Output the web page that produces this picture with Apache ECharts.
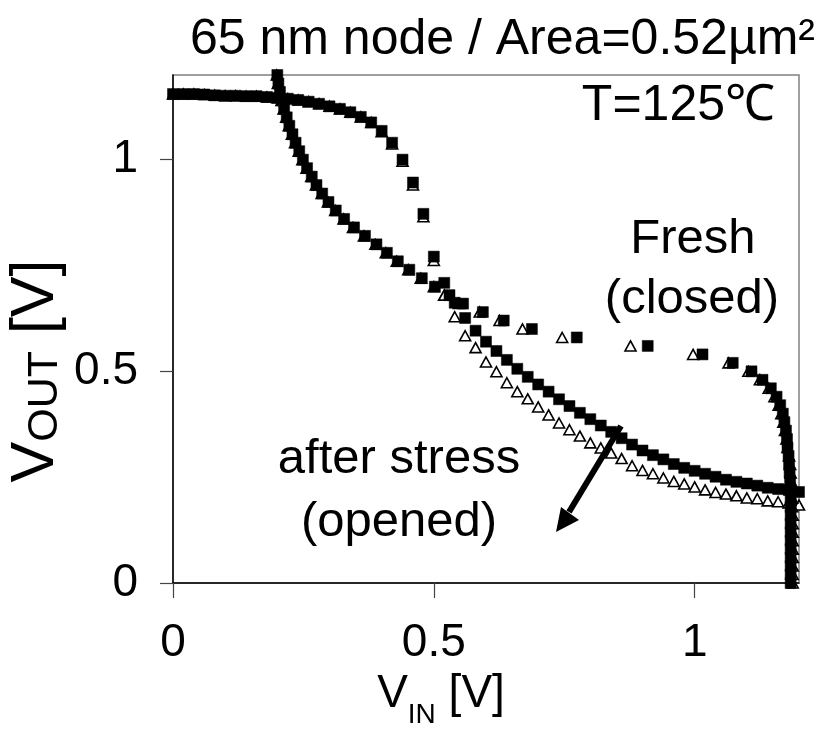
<!DOCTYPE html>
<html><head><meta charset="utf-8">
<script src="https://cdn.jsdelivr.net/npm/echarts@6/dist/echarts.min.js"></script>
<style>html,body{margin:0;padding:0;background:#fff}#c{width:816px;height:734px}</style>
</head><body><div id="c"></div>
<script>
// Sweep voltages (V), 0.02 V steps as measured
const sweep = [0,0.02,0.04,0.06,0.08,0.10,0.12,0.14,0.16,0.18,0.20,0.22,0.24,0.26,0.28,0.30,0.32,0.34,0.36,0.38,0.40,0.42,0.44,0.46,0.48,0.50,0.52,0.54,0.56,0.58,0.60,0.62,0.64,0.66,0.68,0.70,0.72,0.74,0.76,0.78,0.80,0.82,0.84,0.86,0.88,0.90,0.92,0.94,0.96,0.98,1.00,1.02,1.04,1.06,1.08,1.10,1.12,1.14,1.16,1.18,1.20];

// Fresh: VOUT of inverter 1 vs VIN (sweep)
const freshVtcOut = [1.155,1.155,1.155,1.154,1.152,1.151,1.151,1.150,1.150,1.148,1.146,1.144,1.141,1.137,1.132,1.126,1.120,1.112,1.101,1.088,1.068,1.040,1.000,0.946,0.872,0.771,0.709,0.662,0.626,0.596,0.570,0.548,0.527,0.506,0.487,0.469,0.452,0.434,0.418,0.402,0.387,0.372,0.357,0.342,0.327,0.313,0.302,0.292,0.281,0.272,0.265,0.258,0.251,0.244,0.239,0.235,0.230,0.225,0.222,0.220,0.215];
// Fresh: mirrored inverter 2, VIN position vs VOUT (sweep)
const freshMirrorIn = [1.184,1.184,1.184,1.184,1.184,1.184,1.184,1.184,1.184,1.184,1.184,1.183,1.183,1.182,1.181,1.180,1.178,1.177,1.175,1.172,1.169,1.164,1.157,1.146,1.130,1.109,1.073,1.015,0.910,0.774,0.688,0.634,0.594,0.556,0.530,0.502,0.477,0.453,0.431,0.410,0.390,0.368,0.347,0.328,0.312,0.298,0.286,0.275,0.266,0.257,0.249,0.242,0.235,0.229,0.223,0.218,0.213,0.209,0.205,0.202,0.200];

// After stress
const stressVtcOut = [1.155,1.155,1.155,1.154,1.152,1.151,1.151,1.150,1.150,1.148,1.146,1.144,1.141,1.137,1.132,1.126,1.120,1.112,1.101,1.088,1.066,1.037,0.996,0.940,0.865,0.762,0.680,0.629,0.584,0.556,0.522,0.499,0.473,0.452,0.435,0.416,0.397,0.378,0.362,0.347,0.331,0.319,0.307,0.294,0.277,0.266,0.258,0.248,0.240,0.234,0.227,0.220,0.214,0.210,0.206,0.201,0.199,0.194,0.192,0.189,0.184];
const stressMirrorIn = [1.188,1.188,1.188,1.188,1.188,1.188,1.188,1.188,1.188,1.187,1.187,1.186,1.185,1.184,1.183,1.181,1.178,1.176,1.173,1.170,1.166,1.161,1.153,1.142,1.125,1.103,1.065,0.997,0.877,0.746,0.670,0.626,0.588,0.548,0.520,0.500,0.475,0.451,0.429,0.408,0.388,0.366,0.345,0.327,0.311,0.297,0.285,0.274,0.265,0.256,0.248,0.241,0.234,0.228,0.222,0.217,0.212,0.208,0.204,0.201,0.199];

const tickVals = [0, 0.5, 1];
const FONT = 'Liberation Sans, Arial, sans-serif';

const pairs = (xs, ys) => xs.map((x, i) => [x, ys[i]]);

const chart = echarts.init(document.getElementById('c'));
const squareStyle = {color: '#000', borderColor: '#000', borderWidth: 0.5, opacity: 1};
const triStyle = {color: '#fff', borderColor: '#000', borderWidth: 1.6, opacity: 1};
const txt = (text, x, y, size, align) => ({type: 'text', z: 20, style: {text, x, y, font: size + 'px ' + FONT, fill: '#000',
  textAlign: align, textVerticalAlign: 'middle', align: align, verticalAlign: 'middle'}});

chart.setOption({
  animation: false,
  backgroundColor: '#fff',
  title: {
    text: '65 nm node / Area=0.52µm²',
    left: 185, top: 10,
    textStyle: {fontFamily: FONT, fontSize: 50, fontWeight: 'normal', color: '#000'}
  },
  grid: {left: 173, right: 17, top: 75, bottom: 151, show: true, borderColor: '#808080', borderWidth: 1.5,
         outerBoundsMode: 'none', containLabel: false},
  xAxis: {
    type: 'value', min: 0, max: 1.2, interval: 0.5,
    name: '{v|V}{s|IN}{v| [V]}',
    nameLocation: 'middle', nameGap: 78,
    nameTextStyle: {fontFamily: FONT, fontSize: 46, color: '#000', padding: [0, 90, 0, 0],
      rich: {v: {fontFamily: FONT, fontSize: 46, color: '#000', verticalAlign: 'bottom', padding: [0,0,12,0]},
             s: {fontFamily: FONT, fontSize: 28, color: '#000', verticalAlign: 'bottom'}}},
    axisLine: {lineStyle: {color: '#000', width: 1.5}},
    axisTick: {inside: false, length: 15, lineStyle: {color: '#444', width: 1.2}, customValues: tickVals},
    axisLabel: {fontFamily: FONT, fontSize: 46, color: '#000', margin: 37, customValues: tickVals},
    splitLine: {show: false}
  },
  yAxis: {
    type: 'value', min: 0, max: 1.2, interval: 0.5,
    name: '{v|V}{s|OUT}{v| [V]}',
    nameLocation: 'middle', nameGap: 106, nameMoveOverlap: false,
    nameTextStyle: {fontFamily: FONT, fontSize: 61, color: '#000', padding: [0, 84, 0, 0],
      rich: {v: {fontFamily: FONT, fontSize: 61, color: '#000', verticalAlign: 'bottom', padding: [0,0,0,0]},
             s: {fontFamily: FONT, fontSize: 43, color: '#000', verticalAlign: 'bottom'}}},
    axisLine: {lineStyle: {color: '#000', width: 1.5}},
    axisTick: {inside: false, length: 13, lineStyle: {color: '#444', width: 1.2}, customValues: tickVals},
    axisLabel: {fontFamily: FONT, fontSize: 46, color: '#000', margin: 35, customValues: tickVals},
    splitLine: {show: false}
  },
  series: [
    {name: 'after stress VTC', type: 'scatter', symbol: 'triangle', symbolSize: [11, 10],
     itemStyle: triStyle, data: pairs(sweep, stressVtcOut), z: 2},
    {name: 'after stress mirror', type: 'scatter', symbol: 'triangle', symbolSize: [11, 10],
     itemStyle: triStyle, data: pairs(stressMirrorIn, sweep), z: 2},
    {name: 'fresh VTC', type: 'scatter', symbol: 'rect', symbolSize: 11,
     itemStyle: squareStyle, data: pairs(sweep, freshVtcOut), z: 3},
    {name: 'fresh mirror', type: 'scatter', symbol: 'rect', symbolSize: 11,
     itemStyle: squareStyle, data: pairs(freshMirrorIn, sweep), z: 3}
  ],
  graphic: [
    txt('T=125℃', 775, 106, 50, 'right'),
    txt('Fresh', 693, 239, 49, 'center'),
    txt('(closed)', 692, 299, 49, 'center'),
    txt('after stress', 399, 459, 49, 'center'),
    txt('(opened)', 399, 522, 49, 'center'),
    {type: 'line', z: 20, shape: {x1: 621, y1: 426, x2: 569, y2: 512}, style: {stroke: '#000', lineWidth: 6}},
    {type: 'polygon', z: 20, shape: {points: [[556, 532], [579, 520], [561, 507]]}, style: {fill: '#000'}}
  ]
});
</script></body></html>
